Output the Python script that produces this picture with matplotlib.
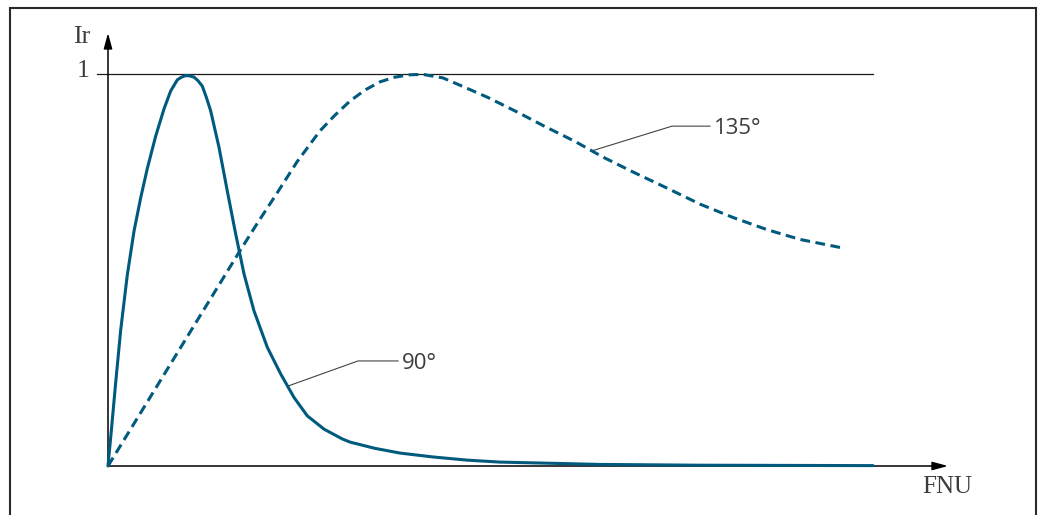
from typing import List

import matplotlib

matplotlib.use("Agg")
import matplotlib.pyplot as plt  # noqa: E402
from matplotlib.patches import Rectangle  # noqa: E402

# Relative intensity Ir over turbidity (FNU), both in arbitrary units.
# x: 0..100 spans the drawn range of the curves, y: 0..1 is the normalized intensity.
fnu_90: List[float] = [
    0.0, 0.43, 1.01, 1.66, 2.52, 3.40, 4.27, 5.14, 6.24, 7.32, 8.20, 9.06,
    9.61, 10.16, 10.72, 11.24, 11.76, 12.33, 12.88, 13.42, 14.51, 15.59,
    16.69, 17.78, 19.08, 20.82, 22.57, 24.31, 26.05, 28.24, 30.63, 31.63,
    34.9, 38.17, 42.5, 46.93, 51.2, 55.56, 64.31, 77.39, 100.0,
]
ir_90: List[float] = [
    0.0, 0.089, 0.214, 0.347, 0.487, 0.599, 0.684, 0.759, 0.842, 0.911,
    0.957, 0.985, 0.992, 0.996, 0.995, 0.992, 0.983, 0.969, 0.939, 0.906,
    0.813, 0.702, 0.592, 0.490, 0.396, 0.303, 0.235, 0.175, 0.128, 0.094,
    0.069, 0.061, 0.045, 0.033, 0.023, 0.015, 0.010, 0.008, 0.004, 0.002,
    0.001,
]

fnu_135: List[float] = [
    0.0, 17.12, 19.61, 22.09, 24.71, 27.71, 29.67, 31.63, 33.59, 35.56,
    37.52, 39.48, 41.18, 43.79, 46.41, 49.67, 53.59, 57.12, 61.05, 64.71,
    68.63, 73.07, 77.39, 81.70, 86.14, 90.46, 96.08,
]
ir_135: List[float] = [
    0.0, 0.545, 0.622, 0.696, 0.776, 0.855, 0.895, 0.931, 0.959, 0.980,
    0.992, 0.998, 0.999, 0.990, 0.968, 0.940, 0.902, 0.866, 0.828, 0.788,
    0.750, 0.709, 0.668, 0.634, 0.603, 0.578, 0.556,
]

# Leader lines for the curve labels: point on curve, elbow, end of the line.
leader_90 = ([23.53, 32.68, 37.91], [0.204, 0.268, 0.268])
leader_135 = ([63.27, 73.73, 78.69], [0.804, 0.867, 0.867])

CURVE_COLOR = "#005a7d"
TEXT_COLOR = "#3c3c3c"
SERIF = ["Liberation Serif", "DejaVu Serif"]
SANS = ["Open Sans", "DejaVu Sans"]


def main() -> None:
    fig = plt.figure(figsize=(10.43, 5.15), dpi=100)
    ax = fig.add_axes([0, 0, 1, 1])
    # 7.65 px per FNU unit, 392 px per Ir unit, origin at pixel (108, 466)
    ax.set_xlim(-108 / 7.65, 935 / 7.65)
    ax.set_ylim(-49 / 392, 466 / 392)
    ax.axis("off")

    # figure frame (open at the bottom)
    fig.patches.append(
        Rectangle(
            (10 / 1043, -0.1), 1026 / 1043, 1.1 - 8 / 515,
            transform=fig.transFigure, fill=False, lw=1.5, ec="#2a2a2a",
        )
    )

    # reference line at Ir = 1
    ax.plot([-1.4, 100], [1, 1], color="#1a1a1a", lw=0.9)

    # axes with arrow heads
    arrow = dict(
        arrowstyle="-|>,head_length=0.55,head_width=0.15",
        mutation_scale=17, lw=1.1, color="black", shrinkA=0, shrinkB=0,
    )
    ax.annotate("", xy=(0, 1.1046), xytext=(0, 0), arrowprops=arrow)
    ax.annotate("", xy=(109.8, 0), xytext=(0, 0), arrowprops=arrow)

    ax.plot(fnu_90, ir_90, color=CURVE_COLOR, lw=2.2,
            solid_joinstyle="round", solid_capstyle="round", zorder=3)
    ax.plot(fnu_135, ir_135, color=CURVE_COLOR, lw=2.2,
            linestyle=(0, (3.2, 1.8)), zorder=3)

    for xs, ys in (leader_90, leader_135):
        ax.plot(xs, ys, color="#444444", lw=0.8)

    ax.text(-3.4, 1.094, "Ir", fontsize=18.5, family=SERIF, color=TEXT_COLOR,
            ha="center", va="center")
    ax.text(-3.3, 1.008, "1", fontsize=18.5, family=SERIF, color=TEXT_COLOR,
            ha="center", va="center")
    ax.text(109.7, -0.054, "FNU", fontsize=18, family=SERIF,
            color=TEXT_COLOR, ha="center", va="center")

    ax.text(79.2, 0.867, "135°", fontsize=16, family=SANS, color=TEXT_COLOR,
            ha="left", va="center_baseline")
    ax.text(38.4, 0.268, "90°", fontsize=16, family=SANS, color=TEXT_COLOR,
            ha="left", va="center_baseline")

    fig.savefig("out.png", dpi=100)
    plt.close(fig)


if __name__ == "__main__":
    main()
